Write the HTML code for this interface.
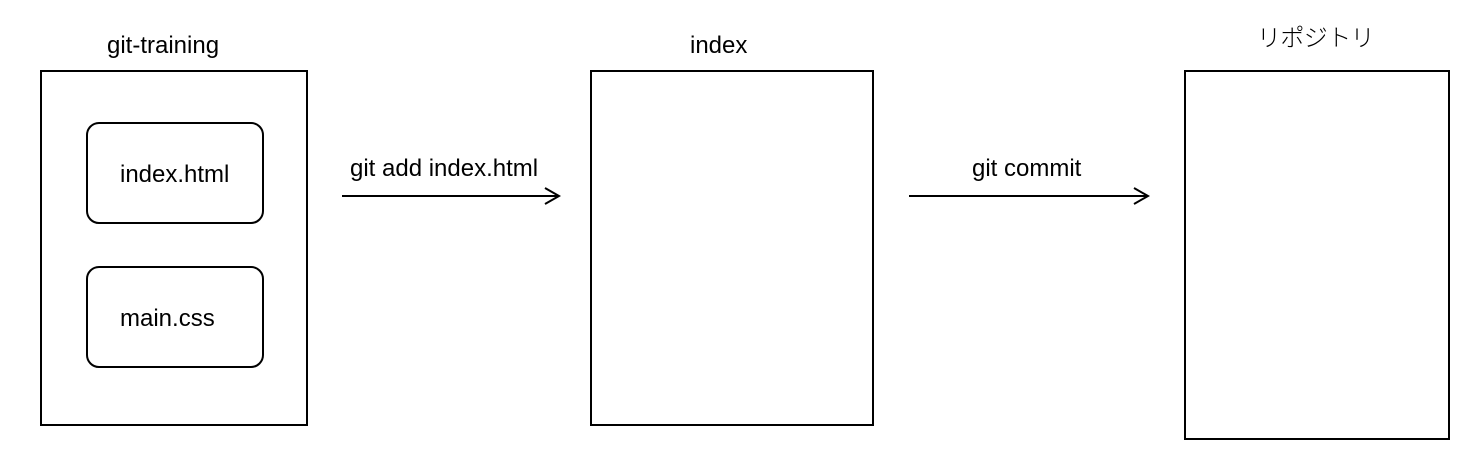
<!DOCTYPE html>
<html lang="ja">
<head>
<meta charset="utf-8">
<title>git diagram</title>
<style>
html,body{margin:0;padding:0;background:#fff;width:1484px;height:468px;overflow:hidden}
svg{display:block}
text{font-family:"Liberation Sans","Noto Sans CJK JP",sans-serif;font-size:24px;fill:#000}
rect{fill:#fff;stroke:#000;stroke-width:2}
.a{fill:none;stroke:#000;stroke-width:2}
.jp{letter-spacing:-0.6px;fill:#000;font-weight:300}
</style>
</head>
<body>
<svg width="1484" height="468" viewBox="0 0 1484 468">
<rect x="41" y="71" width="266" height="354"/>
<rect x="87" y="123" width="176" height="100" rx="12" ry="12"/>
<rect x="87" y="267" width="176" height="100" rx="12" ry="12"/>
<rect x="591" y="71" width="282" height="354"/>
<rect x="1185" y="71" width="264" height="368"/>
<text x="107" y="53">git-training</text>
<text x="120" y="182">index.html</text>
<text x="120" y="326">main.css</text>
<text x="690" y="53">index</text>
<text class="jp" x="1257" y="46">リポジトリ</text>
<text x="350" y="176">git add index.html</text>
<text x="972" y="176">git commit</text>
<g>
<line class="a" x1="342" y1="196" x2="559" y2="196"/>
<polyline class="a" points="545,188 559,196 545,204"/>
</g>
<g>
<line class="a" x1="909" y1="196" x2="1148" y2="196"/>
<polyline class="a" points="1134,188 1148,196 1134,204"/>
</g>
</svg>
</body>
</html>
